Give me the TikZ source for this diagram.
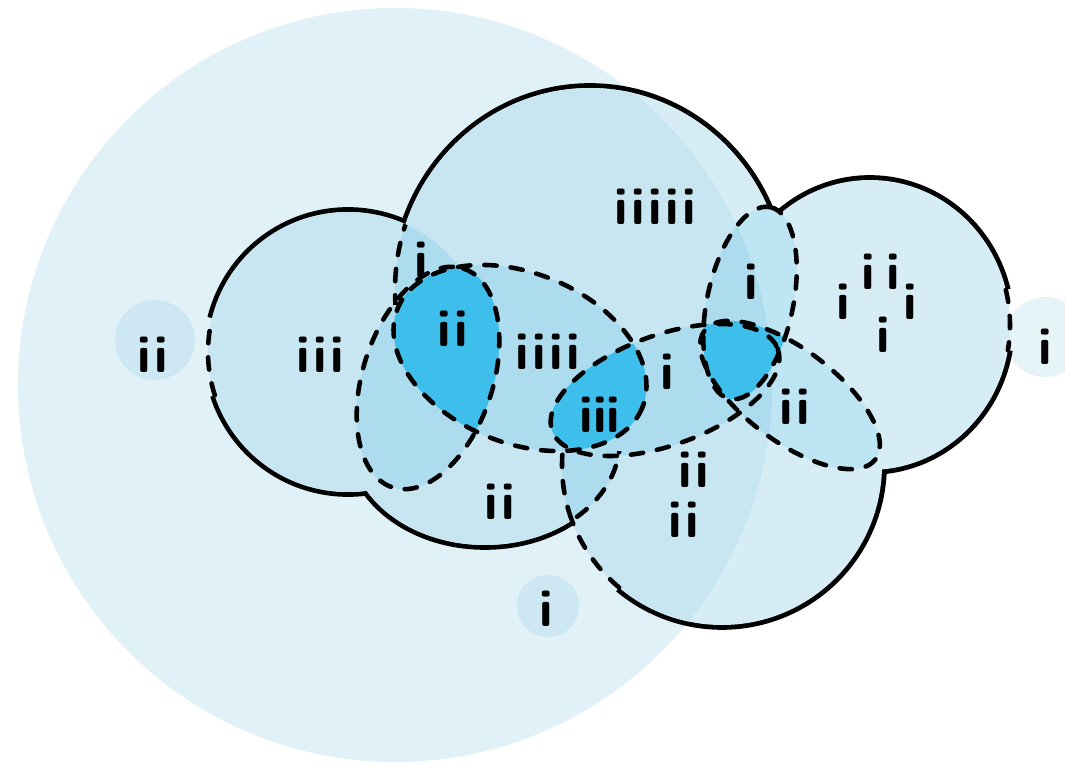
\documentclass[tikz,border=0pt]{standalone}
\definecolor{bigblue}{RGB}{224,241,248}
\definecolor{lobein}{RGB}{200,230,242}
\definecolor{lobeout}{RGB}{214,237,246}
\definecolor{midin}{RGB}{172,220,238}
\definecolor{midout}{RGB}{190,229,243}
\definecolor{deepblue}{RGB}{62,190,234}
\definecolor{dotin}{RGB}{205,232,242}
\definecolor{dotout}{RGB}{230,243,247}
\def\shL{(348,352) circle (140)}
\def\shT{(590,290) ellipse [x radius=195, y radius=202]}
\def\shR{(870,325) ellipse [x radius=140, y radius=145]}
\def\shB{(722,465) circle (160)}
\def\shBL{(485,440) ellipse [x radius=135, y radius=105]}
\def\shEa{(428,378) ellipse [x radius=115, y radius=65, rotate=72]}
\def\shEb{(520,358) ellipse [x radius=132, y radius=85, rotate=-22]}
\def\shEc{(665,390) ellipse [x radius=120, y radius=55, rotate=20]}
\def\shEd{(750,303) ellipse [x radius=98, y radius=43, rotate=78]}
\def\shEe{(790,395) ellipse [x radius=107, y radius=46, rotate=-37]}
\tikzset{
    solidedge/.style={line width=5.5pt},
    dashedge/.style={line width=2.6pt, dash pattern=on 7pt off 8pt, line cap=round},
    tally/.style={font=\sffamily\bfseries\fontsize{30}{32}\selectfont, inner sep=0pt, anchor=base}
}
\begin{document}
\begin{tikzpicture}[x=0.02cm, y=-0.02cm]
    \useasboundingbox (0,0) rectangle (1065,766);
    \clip (0,0) rectangle (1065,766);
    \fill[bigblue] (395,385) circle (377);
    \fill[dotin] (155,340) circle (40);
    \fill[dotin] (548,606) circle (31);
    \fill[dotout] (1045,337) circle (40);
    \draw[solidedge] (348,352) ++(194:140) arc[start angle=194, end angle=522, radius=140];
    \draw[solidedge] \shT;
    \draw[solidedge] (870,325) ++(10:140 and 145) arc[start angle=10, end angle=346, x radius=140, y radius=145];
    \draw[solidedge] (722,465) ++(160:160) arc[start angle=160, end angle=490, radius=160];
    \draw[solidedge] \shBL;
    \fill[lobeout] \shL \shT \shR \shB \shBL;
    \begin{scope}
        \clip (395,385) circle (377);
        \fill[lobein] \shL \shT \shR \shB \shBL;
    \end{scope}
    \fill[midout] \shEa \shEb \shEc \shEd \shEe;
    \begin{scope}
        \clip (395,385) circle (377);
        \fill[midin] \shEa \shEb \shEc \shEd \shEe;
        \begin{scope}
            \clip \shL;
            \fill[midin] \shT;
        \end{scope}
        \begin{scope}
            \clip \shBL;
            \fill[midin] \shB;
        \end{scope}
    \end{scope}
    \begin{scope}
        \clip \shEa;
        \fill[deepblue] \shEb;
    \end{scope}
    \begin{scope}
        \clip \shEb;
        \fill[deepblue] \shEc;
    \end{scope}
    \begin{scope}
        \clip \shEd;
        \fill[deepblue] \shEc \shEe;
    \end{scope}
    \draw[dashedge] \shEa;
    \draw[dashedge] \shEb;
    \draw[dashedge] \shEc;
    \draw[dashedge] \shEd;
    \draw[dashedge] \shEe;
    \begin{scope}
        \clip \shL;
        \clip (0,0) rectangle (1065,305);
        \draw[dashedge] \shT;
    \end{scope}
    \begin{scope}
        \clip \shBL;
        \clip (0,452) rectangle (1065,766);
        \draw[dashedge] \shB;
    \end{scope}
    \begin{scope}
        \clip \shB;
        \clip (0,452) rectangle (1065,766);
        \draw[dashedge] \shBL;
    \end{scope}
    \draw[dashedge] (348,352) ++(162:140) arc[start angle=162, end angle=194, radius=140];
    \draw[dashedge] (870,325) ++(-14:140 and 145) arc[start angle=-14, end angle=10, x radius=140, y radius=145];
    \draw[dashedge] (722,465) ++(130:160) arc[start angle=130, end angle=160, radius=160];
    \node[tally] (tSL) at (153,373) {i\kern2pt i};
    \node[tally] (tL) at (320,373) {i\kern2pt i\kern2pt i};
    \node[tally] (tLT) at (421,278) {i};
    \node[tally] (tLens) at (453,347) {i\kern2pt i};
    \node[tally] (tE2) at (548,370) {i\kern2pt i\kern2pt i\kern2pt i};
    \node[tally] (tT) at (655,225) {i\kern2pt i\kern2pt i\kern2pt i\kern2pt i};
    \node[tally] (tMid) at (600,433) {iii};
    \node[tally] (tE3) at (667,390) {i};
    \node[tally] (tE4) at (751,300) {i};
    \node[tally] (tRa) at (868,290) {i};
    \node[tally] (tRb) at (893,290) {i};
    \node[tally] (tRc) at (843,320) {i};
    \node[tally] (tRd) at (910,320) {i};
    \node[tally] (tRe) at (883,353) {i};
    \node[tally] (tSR) at (1045,365) {i};
    \node[tally] (tE5) at (795,425) {i\kern2pt i};
    \node[tally] (tBa) at (694,488) {i\kern2pt i};
    \node[tally] (tBb) at (684,538) {i\kern2pt i};
    \node[tally] (tBL) at (500,520) {i\kern2pt i};
    \node[tally] (tSB) at (546,626) {i};
\end{tikzpicture}
\end{document}
